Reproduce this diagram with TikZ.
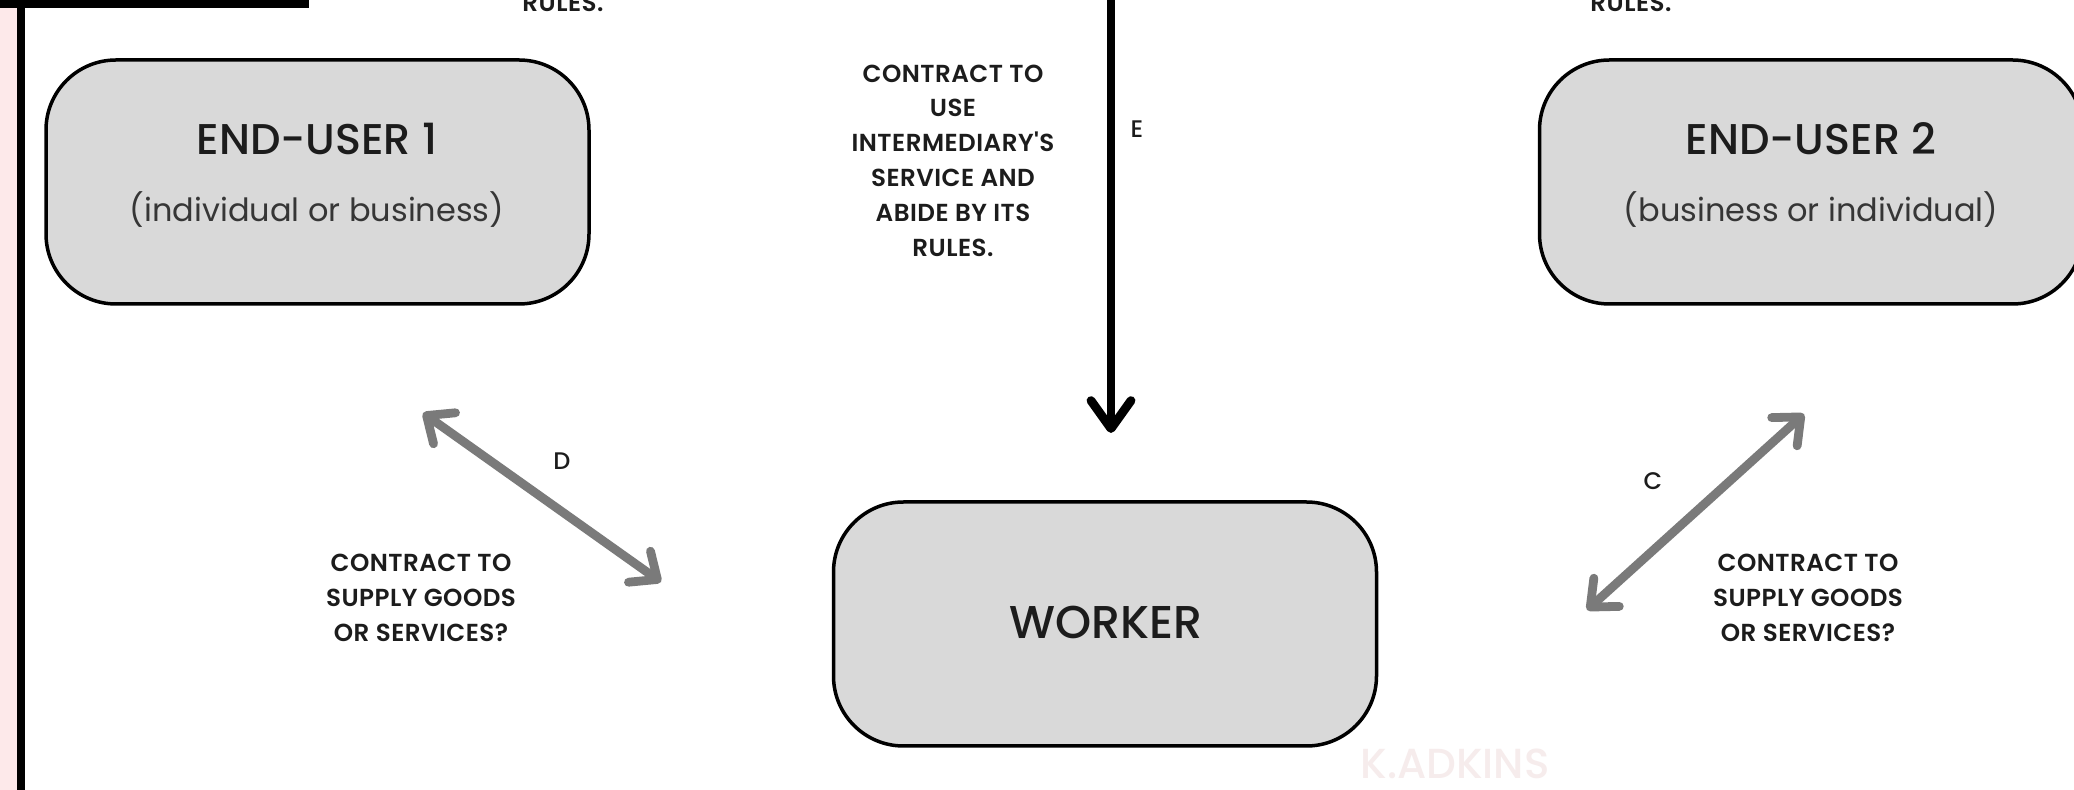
\documentclass[tikz,border=0pt]{standalone}
\usepackage{fontspec}
\setmainfont{Poppins}
\newfontfamily\pmed{Poppins Medium}
\newfontfamily\psemi{Poppins SemiBold}
\newfontfamily\psemils[LetterSpace=2]{Poppins SemiBold}
\usetikzlibrary{arrows.meta}
\definecolor{boxgray}{HTML}{D9D9D9}
\definecolor{arrgray}{HTML}{7A7A7A}
\definecolor{pinkstrip}{HTML}{FDE9EA}
\definecolor{ink}{HTML}{1C1C1C}
\definecolor{subink}{HTML}{363636}
\definecolor{wmark}{HTML}{F6ECEC}
\tikzset{
  box/.style={draw=black, line width=1.75pt, fill=boxgray, rounded corners=35pt,
    minimum width=271.5pt, minimum height=122pt, inner sep=0pt},
  title/.style={font=\pmed\fontsize{21.5}{24}\selectfont, text=ink, inner sep=0pt},
  subtitle/.style={font=\fontsize{16}{19}\selectfont, text=subink, inner sep=0pt},
  label/.style={font=\psemils\fontsize{12.3}{17.4}\selectfont, text=ink, align=center, inner sep=0pt},
  letter/.style={font=\pmed\fontsize{12}{14}\selectfont, text=ink, inner sep=0pt},
  blackarrow/.style={draw=black, line width=4.4pt,
    -{Straight Barb[length=14pt, width=20pt, round]}},
  grayarrow/.style={draw=arrgray, line width=4.4pt,
    {Straight Barb[length=11pt, width=19pt, round]}-{Straight Barb[length=11pt, width=19pt, round]}}
}
\begin{document}
\begin{tikzpicture}[x=0.5pt, y=-0.5pt]
\useasboundingbox (0,0) rectangle (2074,790);
\clip (0,0) rectangle (2074,790);
\fill[white] (0,0) rectangle (2074,790);
% left frame decoration
\fill[pinkstrip] (0,0) rectangle (17,790);
\fill[black] (17,0) rectangle (25,790);
\fill[black] (0,0) rectangle (309,8);
% watermark
\node[font=\pmed\fontsize{21}{22}\selectfont, text=wmark, anchor=base, inner sep=0pt] (wm) at (1455,779) {K.ADKINS};
% boxes
\node[box] (eu1) at (317.5,182) {};
\node[box] (eu2) at (1811,182) {};
\node[box] (wk) at (1105,624) {};
\node[title, anchor=base] (eu1t) at (317,155) {END-USER 1};
\node[subtitle, anchor=base] (eu1s) at (317,222) {(individual or business)};
\node[title, anchor=base] (eu2t) at (1811,155) {END-USER 2};
\node[subtitle, anchor=base] (eu2s) at (1811,222) {(business or individual)};
\node[title, font=\pmed\fontsize{23}{26}\selectfont, anchor=base] (wkt) at (1106,639) {WORKER};
% clipped top labels
\node[label, anchor=base] (rl) at (563,12) {RULES.};
\node[label, anchor=base] (rr) at (1631,12) {RULES.};
% E arrow
\coordinate (eTop) at (1111,-10);
\coordinate (eTip) at (1111,433);
\draw[blackarrow] (eTop) -- (eTip);
\node[letter, anchor=base] (E) at (1137,138) {E};
\node[label] (ctext) at (953,160.5) {CONTRACT TO\\USE\\INTERMEDIARY'S\\SERVICE AND\\ABIDE BY ITS\\RULES.};
% D arrow
\coordinate (dA) at (423,413);
\coordinate (dB) at (661,582);
\draw[grayarrow] (dA) -- (dB);
\node[letter, anchor=base] (D) at (562,470) {D};
\node[label] (ltext) at (421,597.7) {CONTRACT TO\\SUPPLY GOODS\\OR SERVICES?};
% C arrow
\coordinate (cA) at (1804,414);
\coordinate (cB) at (1587,610);
\draw[grayarrow] (cA) -- (cB);
\node[letter, anchor=base] (C) at (1653,490) {C};
\node[label] (rtext) at (1808,597.7) {CONTRACT TO\\SUPPLY GOODS\\OR SERVICES?};
\end{tikzpicture}
\end{document}
